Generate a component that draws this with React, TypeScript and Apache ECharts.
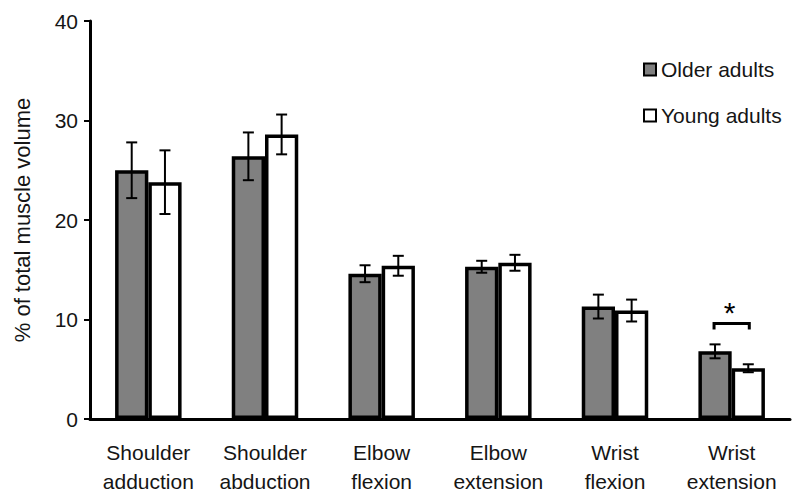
import React, { useEffect, useRef } from "react";
import * as echarts from "echarts";

const categories = [
  "Shoulder\nadduction",
  "Shoulder\nabduction",
  "Elbow\nflexion",
  "Elbow\nextension",
  "Wrist\nflexion",
  "Wrist\nextension",
];
const olderMean = [25.0, 26.4, 14.6, 15.3, 11.3, 6.8];
const olderErr = [2.8, 2.4, 0.85, 0.6, 1.2, 0.7];
const youngMean = [23.8, 28.6, 15.4, 15.7, 10.9, 5.1];
const youngErr = [3.2, 2.0, 1.0, 0.8, 1.1, 0.4];
const yTicks = [0, 10, 20, 30, 40];
const sigCategory = 5;
const sigBracketValue = 9.6;

const FONT = "Liberation Sans, Arial, sans-serif";
const CAT_GAP = 0.43;
const TXT = "#151515";

export default function App() {
  const ref = useRef<HTMLDivElement>(null);
  useEffect(() => {
    if (!ref.current) return;
    const chart = echarts.init(ref.current, null, { renderer: "svg" });

    const errRender = (sign: number) => (params: any, api: any) => {
      const idx = api.value(0);
      const lo = api.value(1);
      const hi = api.value(2);
      const band = api.size([1, 0])[0];
      const off = ((band * (1 - CAT_GAP)) / 4) * sign;
      const top = api.coord([idx, hi]);
      const bot = api.coord([idx, lo]);
      const x = top[0] + off;
      const cap = 5.5;
      const style = { stroke: "#000", lineWidth: 2 };
      return {
        type: "group",
        children: [
          { type: "line", shape: { x1: x, y1: top[1], x2: x, y2: bot[1] }, style },
          { type: "line", shape: { x1: x - cap, y1: top[1], x2: x + cap, y2: top[1] }, style },
          { type: "line", shape: { x1: x - cap, y1: bot[1], x2: x + cap, y2: bot[1] }, style },
        ],
      };
    };

    const olderErrData = olderMean.map((m, i) => [i, m - olderErr[i], m + olderErr[i]]);
    const youngErrData = youngMean.map((m, i) => [i, m - youngErr[i], m + youngErr[i]]);

    chart.setOption({
      animation: false,
      grid: { left: 90, right: 10, top: 21, bottom: 84, containLabel: false },
      legend: {
        orient: "vertical",
        left: 638,
        top: 54,
        itemWidth: 12,
        itemHeight: 12,
        itemGap: 25,
        icon: "rect",
        data: ["Older adults", "Young adults"],
        textStyle: { fontFamily: FONT, fontSize: 21, color: TXT, lineHeight: 21 },
      },
      xAxis: {
        type: "category",
        data: categories,
        axisLine: { lineStyle: { color: "#000", width: 3 } },
        axisTick: { show: false },
        axisLabel: {
          fontFamily: FONT,
          fontSize: 21,
          color: TXT,
          lineHeight: 29,
          margin: 19,
          interval: 0,
        },
      },
      yAxis: {
        type: "value",
        min: yTicks[0],
        max: yTicks[yTicks.length - 1],
        interval: 10,
        name: "% of total muscle volume",
        nameLocation: "middle",
        nameGap: 57,
        nameTextStyle: { fontFamily: FONT, fontSize: 22, color: TXT },
        axisLine: { show: true, lineStyle: { color: "#000", width: 3 } },
        axisTick: { show: true, length: 6, lineStyle: { color: "#000", width: 2 } },
        axisLabel: { fontFamily: FONT, fontSize: 21, color: TXT, margin: 12 },
        splitLine: { show: false },
      },
      series: [
        {
          name: "Older adults",
          type: "bar",
          data: olderMean,
          barGap: "0%",
          barCategoryGap: CAT_GAP * 100 + "%",
          itemStyle: { color: "#808080", borderColor: "#000", borderWidth: 3.5 },
        },
        {
          name: "Young adults",
          type: "bar",
          data: youngMean,
          barGap: "0%",
          barCategoryGap: CAT_GAP * 100 + "%",
          itemStyle: { color: "#fff", borderColor: "#000", borderWidth: 3.5 },
        },
        {
          type: "custom",
          name: "olderErr",
          data: olderErrData,
          encode: { x: 0, y: [1, 2] },
          renderItem: errRender(-1),
          z: 5,
        },
        {
          type: "custom",
          name: "youngErr",
          data: youngErrData,
          encode: { x: 0, y: [1, 2] },
          renderItem: errRender(1),
          z: 5,
        },
        {
          type: "custom",
          name: "sig",
          data: [[sigCategory, sigBracketValue]],
          encode: { x: 0, y: 1 },
          z: 5,
          renderItem: (params: any, api: any) => {
            const idx = api.value(0);
            const v = api.value(1);
            const band = api.size([1, 0])[0];
            const off = (band * (1 - CAT_GAP)) / 4;
            const p = api.coord([idx, v]);
            const x1 = p[0] - off - 1;
            const x2 = p[0] + off + 1;
            const y = p[1];
            const style = { stroke: "#000", lineWidth: 3 };
            return {
              type: "group",
              children: [
                { type: "line", shape: { x1, y1: y, x2, y2: y }, style },
                { type: "line", shape: { x1, y1: y - 1.5, x2: x1, y2: y + 6 }, style },
                { type: "line", shape: { x1: x2, y1: y - 1.5, x2, y2: y + 6 }, style },
                {
                  type: "text",
                  style: {
                    text: "*",
                    x: p[0] - 2,
                    y: y + 4,
                    fontSize: 30,
                    fontFamily: FONT,
                    fill: "#000",
                    align: "center",
                    verticalAlign: "bottom",
                  },
                },
              ],
            };
          },
        },
      ],
    });
    return () => chart.dispose();
  }, []);
  return <div ref={ref} style={{ width: 800, height: 503, margin: -8 }} />;
}
